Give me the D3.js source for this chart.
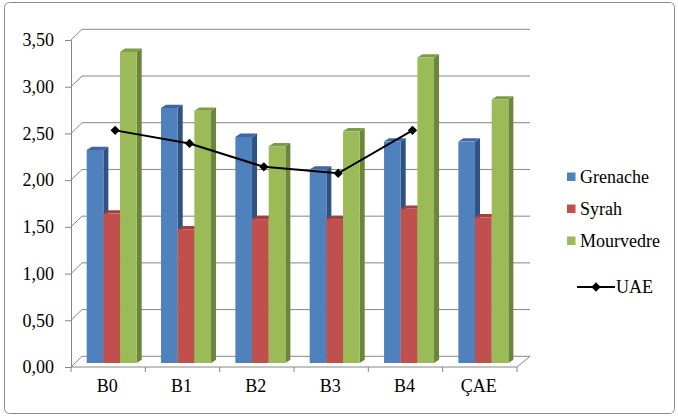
<!DOCTYPE html>
<html>
<head>
<meta charset="utf-8">
<script src="https://cdn.jsdelivr.net/npm/d3@7"></script>
<style>
  html, body { margin: 0; padding: 0; background: #ffffff; }
  svg { display: block; }
</style>
</head>
<body>
<svg id="chart" width="678" height="416"></svg>
<script>
// ---- data ----
const categories = ["B0", "B1", "B2", "B3", "B4", "ÇAE"];
const seriesNames = ["Grenache", "Syrah", "Mourvedre"];
const grenache = [2.28, 2.73, 2.42, 2.07, 2.37, 2.37];
const syrah = [1.60, 1.43, 1.54, 1.54, 1.65, 1.56];
const mourvedre = [3.33, 2.70, 2.32, 2.48, 3.27, 2.82];
const uaeCategories = ["B0", "B1", "B2", "B3", "B4"];
const uae = [2.49, 2.35, 2.10, 2.03, 2.49];
const yTicks = [0, 0.5, 1, 1.5, 2, 2.5, 3, 3.5];
const lineName = "UAE";

// ---- styling ----
const FONT = "'Liberation Serif', 'Times New Roman', Times, 'DejaVu Serif', serif";
const colors = {
  Grenache: { front: "#4F81BD", side: "#2F5283", top: "#3D679E" },
  Syrah: { front: "#C0504D", side: "#8A3532", top: "#A33F3C" },
  Mourvedre: { front: "#9BBB59", side: "#6B853A", top: "#7E9C45" }
};
const fmt = v => d3.format(".2f")(v).replace(".", ",");

const svg = d3.select("#chart");

// border
svg.append("rect").attr("x", 4.5).attr("y", 2.5).attr("width", 670).attr("height", 411)
  .attr("rx", 5).attr("fill", "#fff").attr("stroke", "#8c8c8c").attr("stroke-width", 1);

// ---- scales ----
const x = d3.scaleBand().domain(categories).range([71, 517]).padding(0);
const yFront = d3.scaleLinear().domain([0, 3.5]).range([367, 40]);
const DX = 11, DY = -10.7;           // wall depth
const yBar = d3.scaleLinear().domain([0, 3.5]).range([363, 36]); // mid-depth plane
const BAR_DX = 3.5;                   // shift of bar front face
const SIDE_DX = 5, SIDE_DY = -3.3;    // bar depth
const xSub = d3.scaleBand().domain(seriesNames).range([12.2, 62.2]).padding(0);

const grid = svg.append("g");
yTicks.forEach(t => {
  const yf = yFront(t);
  grid.append("path")
    .attr("d", `M71,${yf}L${71 + DX},${yf + DY}L${517 + 13},${yf + DY}`)
    .attr("fill", "none").attr("stroke", "#868686").attr("stroke-width", 1);
});
grid.append("path")
  .attr("d", `M71,${yFront(0)}L517,${yFront(0)}L530,${yFront(0) + DY}`)
  .attr("fill", "none").attr("stroke", "#868686").attr("stroke-width", 1);

// y axis
const yAxisG = svg.append("g").attr("transform", "translate(71,0)")
  .call(d3.axisLeft(yFront).tickValues(yTicks).tickFormat(fmt).tickSize(6).tickPadding(11));
yAxisG.attr("font-family", null).attr("font-size", null);
yAxisG.selectAll("path.domain").attr("stroke", "#868686");
yAxisG.selectAll("line").attr("stroke", "#868686");
yAxisG.selectAll("text").style("font-size", "18px").style("font-family", FONT).attr("fill", "#000");

// x axis
const xAxisG = svg.append("g").attr("transform", `translate(0,${yFront(0)})`)
  .call(d3.axisBottom(x).tickSize(0).tickPadding(12));
xAxisG.attr("font-family", null).attr("font-size", null);
xAxisG.select("path.domain").remove();
xAxisG.selectAll("text").style("font-size", "18px").style("font-family", FONT).attr("fill", "#000")
  .attr("dx", -1);
const bounds = categories.map(c => x(c)).concat([x.range()[1]]);
xAxisG.selectAll("line.bt").data(bounds).enter().append("line").attr("class", "bt")
  .attr("x1", d => d).attr("x2", d => d).attr("y1", 0).attr("y2", 5).attr("stroke", "#868686");

// ---- bars ----
const seriesData = { Grenache: grenache, Syrah: syrah, Mourvedre: mourvedre };
const bars = svg.append("g");
categories.forEach((c, i) => {
  seriesNames.forEach(s => {
    const v = seriesData[s][i];
    const x0 = x(c) + xSub(s) + BAR_DX;
    const w = xSub.bandwidth();
    const y0 = yBar(0), y1 = yBar(v);
    const g = bars.append("g");
    g.append("path").attr("d",
      `M${x0 + w},${y1}L${x0 + w + SIDE_DX},${y1 + SIDE_DY}L${x0 + w + SIDE_DX},${y0 + SIDE_DY}L${x0 + w},${y0}Z`)
      .attr("fill", colors[s].side);
    g.append("path").attr("d",
      `M${x0},${y1}L${x0 + SIDE_DX},${y1 + SIDE_DY}L${x0 + w + SIDE_DX},${y1 + SIDE_DY}L${x0 + w},${y1}Z`)
      .attr("fill", colors[s].top);
    g.append("rect").attr("x", x0).attr("y", y1).attr("width", w).attr("height", y0 - y1)
      .attr("fill", colors[s].front);
  });
});

// ---- line ----
const LINE_DX = 7;
const linePts = uaeCategories.map((c, i) => [x(c) + x.bandwidth() / 2 + LINE_DX, yBar(uae[i])]);
svg.append("path").attr("d", d3.line()(linePts))
  .attr("fill", "none").attr("stroke", "#000").attr("stroke-width", 2);
const diamond = d3.symbol().type(d3.symbolDiamond2).size(55);
svg.append("g").selectAll("path").data(linePts).enter().append("path")
  .attr("d", diamond).attr("transform", d => `translate(${d[0]},${d[1]})`).attr("fill", "#000");

// ---- legend ----
const legY = [177, 209, 241];
const leg = svg.append("g");
seriesNames.forEach((s, i) => {
  leg.append("rect").attr("x", 567).attr("y", legY[i] - 4.5).attr("width", 8.5).attr("height", 8.5)
    .attr("fill", colors[s].front);
  leg.append("text").attr("x", 580).attr("y", legY[i]).attr("dy", "0.35em")
    .style("font-size", "18px").style("font-family", FONT).attr("fill", "#000").text(s);
});
leg.append("line").attr("x1", 577).attr("x2", 615).attr("y1", 287).attr("y2", 287)
  .attr("stroke", "#000").attr("stroke-width", 2);
leg.append("path").attr("d", diamond).attr("transform", "translate(596,287)").attr("fill", "#000");
leg.append("text").attr("x", 616).attr("y", 287).attr("dy", "0.35em")
  .style("font-size", "18px").style("font-family", FONT).attr("fill", "#000").text(lineName);
</script>
</body>
</html>
